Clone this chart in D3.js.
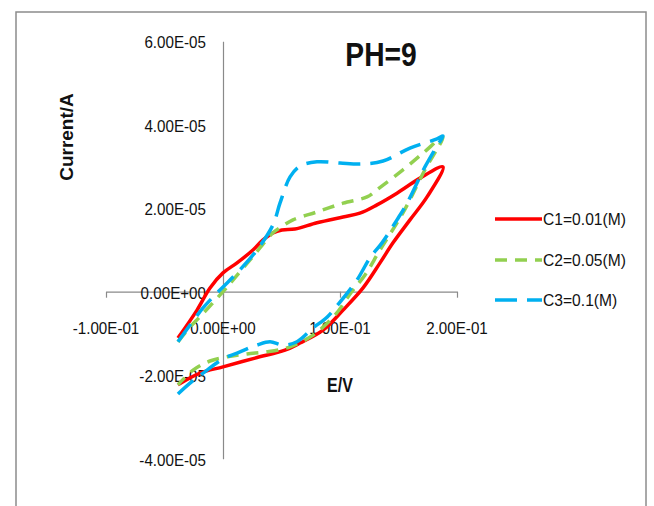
<!DOCTYPE html>
<html><head><meta charset="utf-8">
<script src="https://cdn.jsdelivr.net/npm/d3@7"></script>
<style>body{margin:0;background:#fff}svg{display:block}text{font-family:"Liberation Sans",Arial,sans-serif;fill:#111}</style>
</head><body><svg id="c" width="654" height="506"></svg>
<script>
// ---- data ----
const title = "PH=9";
const xTitle = "E/V";
const yTitle = "Current/A";
const xTicks = [-0.1, 0, 0.1, 0.2];
const xTickLabels = ["-1.00E-01", "0.00E+00", "1.00E-01", "2.00E-01"];
const yTicks = [-4e-5, -2e-5, 0, 2e-5, 4e-5, 6e-5];
const yTickLabels = ["-4.00E-05", "-2.00E-05", "0.00E+00", "2.00E-05", "4.00E-05", "6.00E-05"];
const seriesNames = ["C1=0.01(M)", "C2=0.05(M)", "C3=0.1(M)"];

const c1E = [-0.0385,-0.0222,-0.0111,0,0.012,0.0256,0.0342,0.0427,0.0504,0.0615,0.0803,0.1026,0.117,0.1316,0.1487,0.1684,0.188,
             0.1744,0.1598,0.1453,0.1342,0.1197,0.1026,0.0855,0.0658,0.053,0.0274,0,-0.0197,-0.0385];
const c1I = [-1.11e-5,-0.44e-5,0.09e-5,0.45e-5,0.69e-5,1.0e-5,1.24e-5,1.41e-5,1.48e-5,1.50e-5,1.65e-5,1.79e-5,1.88e-5,2.08e-5,2.36e-5,2.72e-5,2.99e-5,
             2.27e-5,1.72e-5,1.17e-5,0.69e-5,0.09e-5,-0.44e-5,-0.92e-5,-1.23e-5,-1.40e-5,-1.59e-5,-1.80e-5,-1.95e-5,-2.23e-5];

const c2E = [-0.0385,-0.0282,-0.0197,0,0.0085,0.0231,0.0427,0.0487,0.0598,0.0803,0.1026,0.1231,0.1316,0.1538,0.171,0.188,
             0.1726,0.1538,0.1342,0.1214,0.110,0.0957,0.0769,0.0573,0.0376,0.0205,0.0034,-0.0111,-0.0256,-0.0385];
const c2I = [-1.2e-5,-0.85e-5,-0.6e-5,0,0.28e-5,0.76e-5,1.41e-5,1.53e-5,1.72e-5,1.91e-5,2.12e-5,2.27e-5,2.44e-5,2.92e-5,3.32e-5,3.71e-5,
             2.92e-5,1.89e-5,1.0e-5,0.4e-5,0,-0.56e-5,-1.04e-5,-1.32e-5,-1.44e-5,-1.49e-5,-1.56e-5,-1.66e-5,-1.88e-5,-2.23e-5];

const c3E = [-0.0385,-0.0171,-0.0026,0.012,0.029,0.0427,0.0487,0.0573,0.0658,0.0803,0.1,0.1188,0.1368,0.1598,0.1829,0.188,
             0.1829,0.1726,0.1573,0.1487,0.1359,0.1256,0.1145,0.1,0.0889,0.0769,0.0632,0.0513,0.0402,0.029,0.012,0,-0.0171,-0.0282,-0.0385];
const c3I = [-1.2e-5,-0.39e-5,0.04e-5,0.45e-5,1.0e-5,1.6e-5,2.12e-5,2.75e-5,3.01e-5,3.11e-5,3.08e-5,3.06e-5,3.13e-5,3.44e-5,3.66e-5,3.73e-5,
             3.49e-5,2.99e-5,2.12e-5,1.72e-5,1.17e-5,0.81e-5,0.28e-5,-0.25e-5,-0.61e-5,-0.87e-5,-1.20e-5,-1.28e-5,-1.20e-5,-1.28e-5,-1.47e-5,-1.61e-5,-1.95e-5,-2.19e-5,-2.45e-5];

// ---- drawing ----
const svg = d3.select("#c");
const colors = ["#ff0000", "#92d050", "#00b0f0"];
const dashes = [null, "12,8", "22,10"];

svg.append("rect").attr("x",16).attr("y",12).attr("width",630).attr("height",520)
  .attr("fill","#fff").attr("stroke","#8c8c8c").attr("stroke-width",1.5);

const x = d3.scaleLinear().domain([-0.1, 0.2]).range([106, 457]);
const y = d3.scaleLinear().domain([-4e-5, 6e-5]).range([458.7, 41.2]);

// axes
const xa = svg.append("g").attr("transform", `translate(0,${y(0)})`)
  .call(d3.axisBottom(x).tickValues(xTicks).tickSize(6).tickSizeOuter(0).tickFormat(""));
const ya = svg.append("g").attr("transform", `translate(${x(0)},0)`)
  .call(d3.axisLeft(y).tickValues(yTicks).tickSize(0).tickSizeOuter(0).tickFormat(""));
[xa, ya].forEach(g => { g.selectAll("path,line").attr("stroke","#8a8a8a").attr("stroke-width",1.2); });

// tick labels
svg.append("g").selectAll("text").data(xTicks).join("text")
  .attr("transform", d => `translate(${x(d)},334) scale(0.92,1)`)
  .attr("text-anchor","middle").attr("font-size",16.5)
  .text((d,i) => xTickLabels[i]);
svg.append("g").selectAll("text").data(yTicks).join("text")
  .attr("transform", d => `translate(206,${y(d)+7}) scale(0.92,1)`)
  .attr("text-anchor","end").attr("font-size",16.5)
  .text((d,i) => yTickLabels[i]);

// series
const series = [[c1E,c1I],[c2E,c2I],[c3E,c3I]];
const line = d3.line().x(d => x(d[0])).y(d => y(d[1])).curve(d3.curveCatmullRom.alpha(0.5));
series.forEach((s,k) => {
  const pts = s[0].map((e,i) => [e, s[1][i]]);
  svg.append("path").datum(pts).attr("d", line)
    .attr("fill","none").attr("stroke",colors[k]).attr("stroke-width",3.5)
    .attr("stroke-dasharray",dashes[k]).attr("stroke-linejoin","round");
});

// titles
svg.append("text").attr("transform","translate(381,66) scale(0.83,1)")
  .attr("text-anchor","middle").attr("font-size",34).attr("font-weight","bold").text(title);
svg.append("text").attr("transform","translate(340,392) scale(0.8,1)")
  .attr("text-anchor","middle").attr("font-size",20).attr("font-weight","bold").text(xTitle);
svg.append("text").attr("transform","translate(73,137) rotate(-90)")
  .attr("text-anchor","middle").attr("font-size",19).attr("font-weight","bold").text(yTitle);

// legend
const ly = [219, 260, 300];
seriesNames.forEach((n,k) => {
  svg.append("line").attr("x1",495).attr("x2",542).attr("y1",ly[k]).attr("y2",ly[k])
    .attr("stroke",colors[k]).attr("stroke-width",3.5).attr("stroke-dasharray",dashes[k]);
  svg.append("text").attr("transform",`translate(543,${ly[k]+6}) scale(0.92,1)`)
    .attr("font-size",17).text(n);
});
</script></body></html>
